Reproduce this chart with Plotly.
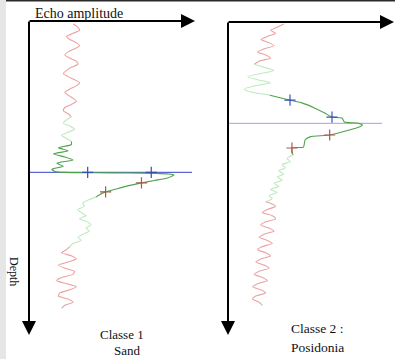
import plotly.graph_objects as go

# ---------------- data ----------------
# Panel 1: Classe 1 / Sand  (depth index, echo amplitude in %)
sand_depth = ([float(d) for d in range(1, 32)] + [float(d) for d in range(32, 40)] +
              [40, 41, 42, 43, 44, 45, 46, 47, 48, 48.7, 49.0, 49.1, 49.2, 49.3, 49.5, 49.8,
               50.8, 51.6, 52.4, 53.2, 54.0, 55.3, 56.3, 57.0] +
              [float(d) for d in range(58, 74)] + [float(d) for d in range(74, 94)])
sand_amp = ([27, 30, 31, 27, 23, 25, 29, 31, 28, 24, 22, 25, 29, 30, 26, 23, 21, 24, 28, 31,
             29, 25, 22, 24, 27, 29, 26, 22, 21, 24, 26] +
            [23, 21, 25, 28, 24, 20, 23, 26] +
            [26, 18, 24, 15, 22, 27, 17, 21, 14, 16, 22, 40, 60, 78, 86, 89,
             85, 77, 69, 62, 56, 47, 43, 41] +
            [36, 33, 34, 30, 32, 35, 31, 36, 38, 35, 37, 33, 30, 32, 27, 25] +
            [23, 20, 26, 29, 24, 18, 22, 28, 27, 20, 17, 23, 29, 25, 19, 18, 24, 27, 22, 20])
# colour segments (depth ranges): noise / weak echo / main echo / weak echo / noise
sand_breaks = [31, 39, 57, 73]
sand_ref_depth = 49
sand_blue_cross_amp = [36, 75]
sand_blue_cross_depth = [49, 49]
sand_red_cross_amp = [69, 47]
sand_red_cross_depth = [52.4, 55.3]

# Panel 2: Classe 2 / Posidonia
posi_depth = ([float(d) for d in range(1, 15)] + [float(d) for d in range(15, 24)] +
              [24, 25, 25.6, 26.5, 28.2, 29.8, 31.1, 31.4, 32.7, 33.0, 33.7, 34.3, 35.3,
               36.9, 37.5, 38.5, 40.8, 41.1, 43.4] +
              [44.5, 45.5, 46.5, 47.5, 48.5, 49.5, 50.5, 51.5, 52.5, 53.5, 54.5, 55.5,
               56.5, 57.5, 58.5] +
              [float(d) for d in range(59, 93)])
posi_amp = ([34, 30, 26, 29, 24, 20, 25, 28, 22, 18, 23, 26, 19, 16] +
            [22, 28, 20, 12, 18, 26, 16, 10, 14] +
            [25.6, 33, 37.8, 45, 53, 59, 63.4, 69.5, 71, 79, 82, 80, 74,
             62, 50, 47, 46, 39, 39.6] +
            [36, 38, 33, 35, 31, 34, 30, 33, 28, 31, 26, 30, 25, 27, 23] +
            [26, 29, 24, 21, 27, 29, 23, 20, 25, 28, 22, 19, 24, 27, 21, 18, 23, 26, 20,
             17, 22, 25, 19, 16, 21, 24, 18, 15, 20, 23, 17, 15, 19, 21])
posi_breaks = [14, 24, 43.4, 58.5]
posi_ref_depth = 33.1
posi_blue_cross_amp = [37.8, 63.4]
posi_blue_cross_depth = [25.6, 31.1]
posi_red_cross_amp = [62, 39]
posi_red_cross_depth = [36.9, 41.1]

# ---------------- styling ----------------
W, H = 395, 359
RED = "#eba3a3"
LGREEN = "#bfe9bf"
DGREEN = "#4ea24e"
seg_colors = [RED, LGREEN, DGREEN, LGREEN, RED]


def px_x(p):
    return p / W


def px_y(p):
    return 1 - p / H


fig = go.Figure()


def add_profile(depth, amp, breaks, xa, ya):
    bounds = [-1e9] + breaks + [1e9]
    for i in range(len(bounds) - 1):
        lo, hi = bounds[i], bounds[i + 1]
        xs = [a for a, d in zip(amp, depth) if lo <= d <= hi]
        ys = [d for d in depth if lo <= d <= hi]
        fig.add_trace(go.Scatter(x=xs, y=ys, mode="lines", xaxis=xa, yaxis=ya,
                                 line=dict(color=seg_colors[i], width=1.1, shape="spline",
                                           smoothing=0.6),
                                 hoverinfo="skip", showlegend=False))


# reference lines (drawn first, below curves)
fig.add_trace(go.Scatter(x=[0, 100], y=[sand_ref_depth] * 2, mode="lines", xaxis="x", yaxis="y",
                         line=dict(color="#5b68cf", width=1.2), showlegend=False))
fig.add_trace(go.Scatter(x=[0, 94], y=[posi_ref_depth] * 2, mode="lines", xaxis="x2", yaxis="y2",
                         line=dict(color="#b4b4ea", width=1.2), showlegend=False))

add_profile(sand_depth, sand_amp, sand_breaks, "x", "y")
add_profile(posi_depth, posi_amp, posi_breaks, "x2", "y2")

for xs, ys, col, xa, ya in [
    (sand_blue_cross_amp, sand_blue_cross_depth, "#3550a8", "x", "y"),
    (sand_red_cross_amp, sand_red_cross_depth, "#a85a4a", "x", "y"),
    (posi_blue_cross_amp, posi_blue_cross_depth, "#3d55b8", "x2", "y2"),
    (posi_red_cross_amp, posi_red_cross_depth, "#b0584a", "x2", "y2"),
]:
    fig.add_trace(go.Scatter(x=xs, y=ys, mode="markers", xaxis=xa, yaxis=ya,
                             marker=dict(symbol="cross-thin", size=8,
                                         line=dict(color=col, width=1.2)),
                             showlegend=False))

ax_common = dict(visible=False, fixedrange=True)
fig.update_layout(
    width=W, height=H,
    margin=dict(l=0, r=0, t=0, b=0),
    paper_bgcolor="white", plot_bgcolor="rgba(0,0,0,0)",
    xaxis=dict(domain=[px_x(29), px_x(192)], range=[0, 100], **ax_common),
    yaxis=dict(domain=[px_y(330), px_y(21)], range=[100, 0], **ax_common),
    xaxis2=dict(domain=[px_x(228), px_x(392)], range=[0, 100], **ax_common),
    yaxis2=dict(domain=[px_y(330), px_y(21)], range=[100, 0], anchor="x2", **ax_common),
)

# page frame: grey strip on the left, dark rule along the top
fig.add_shape(type="rect", xref="paper", yref="paper", x0=0, x1=px_x(6), y0=0, y1=1,
              fillcolor="#e6e6e6", line=dict(width=0), layer="below")
fig.add_shape(type="line", xref="paper", yref="paper", x0=px_x(6), x1=1, y0=px_y(0.8), y1=px_y(0.8),
              line=dict(color="#2a2a2a", width=1.6))

# axis arrows
arrows = [
    (29, 335, 0, -315),   # left depth axis
    (195, 21, -167, 0),   # left amplitude axis
    (228, 335, 0, -314),  # right depth axis
    (394, 22, -167, 0),   # right amplitude axis
]
for x, y, ax, ay in arrows:
    fig.add_annotation(x=px_x(x), y=px_y(y), xref="paper", yref="paper", text="",
                       showarrow=True, ax=ax, ay=ay, axref="pixel", ayref="pixel",
                       arrowhead=2, arrowsize=1.4, arrowwidth=2, arrowcolor="black", standoff=0)

font = dict(family="Liberation Serif", color="#111111")
texts = [
    ("Echo amplitude", 79, 13, 14, 0, "center"),
    ("Depth", 14, 271, 12, 90, "center"),
    ("Classe 1", 122, 334, 13, 0, "center"),
    ("Sand", 127, 350, 13, 0, "center"),
    ("Classe 2 :", 289, 328, 13.5, 0, "left"),
    ("Posidonia", 289, 347, 13.5, 0, "left"),
]
for t, x, y, s, ang, al in texts:
    fig.add_annotation(x=px_x(x), y=px_y(y), xref="paper", yref="paper", text=t,
                       showarrow=False, textangle=ang, xanchor=al, yanchor="middle",
                       font=dict(size=s, **font))

fig.write_html("out.html", config={"displayModeBar": False},
               post_script="document.body.style.margin='0';document.body.style.overflow='hidden';")
